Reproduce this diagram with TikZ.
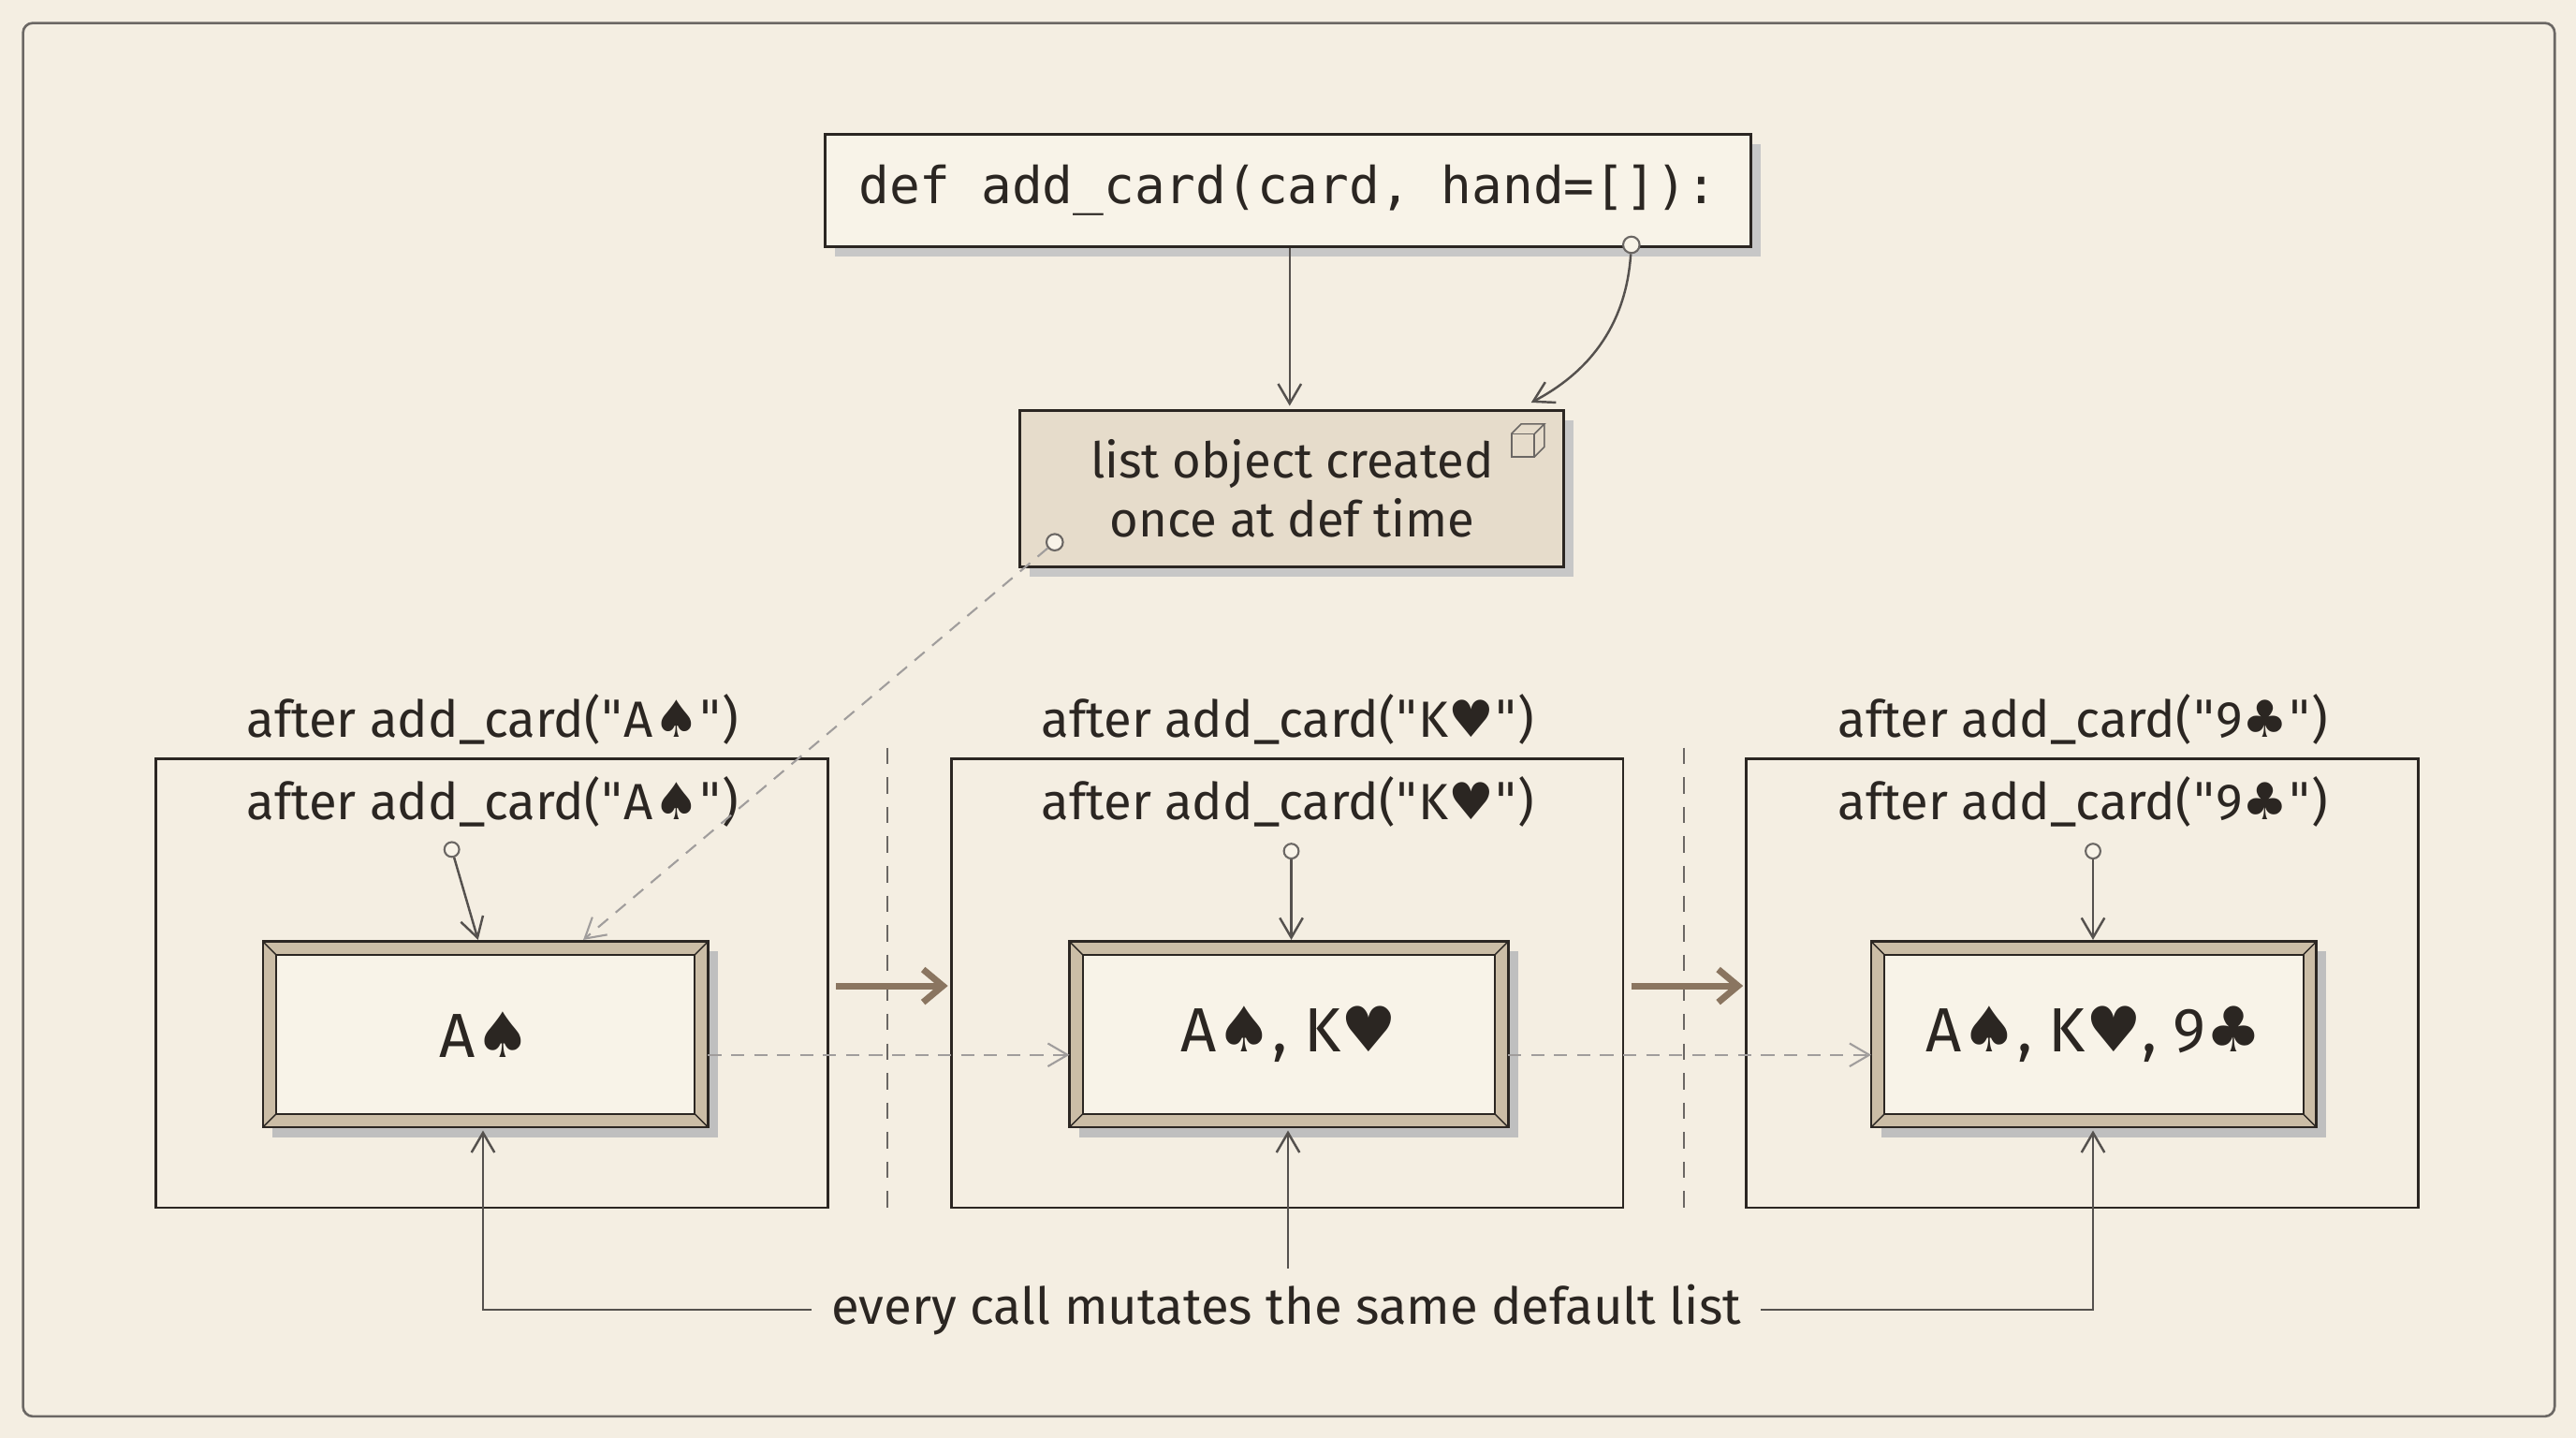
\documentclass[tikz,border=0pt]{standalone}
\usepackage{fontspec}
\setmainfont{Fira Sans}
\setmonofont{DejaVu Sans Mono}
\newfontfamily\symf{DejaVu Sans}
\usetikzlibrary{arrows.meta}
\newcommand{\Sp}{{\symf ♠}}
\newcommand{\Ht}{{\symf ♥}}
\newcommand{\Cl}{{\symf ♣}}
\newcommand{\Q}{{\symf\textquotedbl}}
\definecolor{bg}{HTML}{F4EEE2}
\definecolor{paper}{HTML}{F8F3E8}
\definecolor{ink}{HTML}{2B2622}
\definecolor{tan}{HTML}{E6DCCB}
\definecolor{bevel}{HTML}{CBBDA6}
\definecolor{brn}{HTML}{8A7560}
\tikzset{
 lbl/.style={font=\fontsize{31}{36}\selectfont, text=ink, inner sep=0},
 big/.style={font=\fontsize{38}{44}\selectfont, text=ink, inner sep=0},
 frame/.style={draw=ink, line width=1.6pt},
 arr/.style={draw=ink!80, line width=1.4pt, -{Straight Barb[length=12pt,width=14pt]}},
 darr/.style={draw=ink!45, line width=1.2pt, dash pattern=on 8pt off 6pt, -{Straight Barb[length=12pt,width=14pt]}},
 pin/.style={circle, draw=ink!70, fill=paper, line width=1.2pt, minimum size=10pt, inner sep=0},
 thick arr/.style={draw=brn, line width=4pt, -{Straight Barb[length=12pt,width=20pt]}},
}
\newcommand{\bevbox}[5]{% x1 y1 x2 y2 name
 \fill[black!25] (#1+6,#2+6) rectangle (#3+6,#4+6);
 \fill[bevel] (#1,#2) rectangle (#3,#4);
 \fill[paper] (#1+8,#2+8) rectangle (#3-8,#4-8);
 \draw[ink, line width=1.5pt] (#1,#2) rectangle (#3,#4);
 \draw[ink, line width=1.1pt] (#1+8,#2+8) rectangle (#3-8,#4-8);
 \draw[ink, line width=0.8pt] (#1,#2)--(#1+8,#2+8) (#3,#2)--(#3-8,#2+8) (#1,#4)--(#1+8,#4-8) (#3,#4)--(#3-8,#4-8);
 \coordinate (#5) at ({(#1+#3)/2},{(#2+#4)/2});
}
\begin{document}
\begin{tikzpicture}[x=1pt,y=-1pt]
\useasboundingbox (0,0) rectangle (1568,875);
\fill[bg] (0,0) rectangle (1568,875);
\draw[ink!70, line width=1.5pt, rounded corners=6pt] (14,14) rectangle (1555,862);
% code box
\fill[black!22] (508,88) rectangle (1072,156);
\node[draw=ink, line width=1.7pt, fill=paper, minimum width=564pt, minimum height=68pt, inner sep=0,
 font=\ttfamily\fontsize{31}{36}\selectfont, text=ink] (code) at (784,116) {def add\_card(card, hand=[]):};
% list object box
\fill[black!22] (627,256) rectangle (958,351);
\node[draw=ink, line width=1.7pt, fill=tan, minimum width=331pt, minimum height=95pt, inner sep=0,
 align=center, font=\fontsize{30}{36}\selectfont, text=ink] (obj) at (786.5,297.5) {list object created\\once at def time};
% cube icon
\begin{scope}[shift={(930,268)}, ink!70, line width=0.9pt]
 \draw (-10,-4) rectangle (4,10);
 \draw (-10,-4)--(-4,-10)--(10,-10)--(4,-4) (10,-10)--(10,4)--(4,10);
\end{scope}
\coordinate (objtop) at (785,247);
\draw[arr] (code.south -| objtop) -- (objtop);
\node[pin] (p0) at (993,149) {};
\coordinate (objtr) at (932,245);
\draw[arr] (p0) .. controls (990,195) and (970,225) .. (objtr);
\node[pin] (p1) at (642,330) {};
% frames
\foreach \x/\t/\n in {95/A\Sp/1,579/K\Ht/2,1063/9\Cl/3}{
 \draw[frame] (\x,462) rectangle (\x+409,735);
 \node[lbl] (la\n) at (\x+205,438) {after add\_card(\Q\t\Q)};
 \node[lbl] (lb\n) at (\x+205,488) {after add\_card(\Q\t\Q)};
}
\draw[ink!70, line width=1.2pt, dash pattern=on 10pt off 8pt] (540,455)--(540,740) (1025,455)--(1025,740);
\bevbox{160}{573}{431}{686}{b1}
\bevbox{651}{573}{918}{686}{b2}
\bevbox{1139}{573}{1410}{686}{b3}
\node[big] (t1) at (b1) {A\Sp};
\node[big] (t2) at (b2) {A\Sp, K\Ht};
\node[big] (t3) at (b3) {A\Sp, K\Ht, 9\Cl};
% pins
\node[pin, minimum size=9pt] (q1) at (275,517) {};
\node[pin, minimum size=9pt] (q2) at (786,518) {};
\node[pin, minimum size=9pt] (q3) at (1274,518) {};
\coordinate (e1) at (291,572); \coordinate (e2) at (786,572); \coordinate (e3) at (1274,572);
\draw[arr] (q1)--(e1); \draw[arr] (q2)--(e2); \draw[arr] (q3)--(e3);
\coordinate (d1) at (355,572);
\draw[darr] (p1)--(d1);
% thick arrows
\coordinate (k1) at (509,600); \coordinate (k2) at (577,600);
\coordinate (k3) at (993,600); \coordinate (k4) at (1061,600);
\draw[thick arr] (k1)--(k2); \draw[thick arr] (k3)--(k4);
% dashed arrows
\coordinate (g1) at (431,642); \coordinate (g2) at (651,642);
\coordinate (g3) at (918,642); \coordinate (g4) at (1139,642);
\draw[darr] (g1)--(g2); \draw[darr] (g3)--(g4);
% bottom
\node[lbl] (bot) at (783,797) {every call mutates the same default list};
\coordinate (u1) at (294,688); \coordinate (u2) at (784,688); \coordinate (u3) at (1274,688);
\draw[arr] (494,797) -- (294,797) -- (u1);
\draw[arr] (784,772) -- (u2);
\draw[arr] (1072,797) -- (1274,797) -- (u3);
\end{tikzpicture}
\end{document}
